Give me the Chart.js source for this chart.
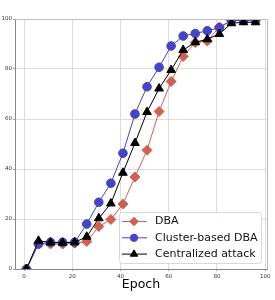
<!DOCTYPE html>
<html lang="en">
<head>
<meta charset="UTF-8">
<title>Epoch chart</title>
<script src="https://cdn.jsdelivr.net/npm/chart.js"></script>
<style>
  html, body { margin: 0; padding: 0; background: #fff; }
  #wrap { width: 275px; height: 300px; }
</style>
</head>
<body>
<div id="wrap"><canvas id="chart" width="275" height="300"></canvas></div>
<script>
// data
const epochs = [1, 6, 11, 16, 21, 26, 31, 36, 41, 46, 51, 56, 61, 66, 71, 76, 81, 86, 91, 96];
const dbaValues = [0, 10, 10, 10, 10.3, 11, 17, 19.8, 26, 36.8, 47.5, 63, 75, 85, 90.6, 91.2, 96.8, 99.5, 99.5, 99.5];
const clusterValues = [0, 10, 10.7, 10.7, 10.7, 18, 26.7, 34.3, 46.3, 62, 72.9, 80.7, 89.2, 93.2, 94.2, 95.3, 96.5, 99.4, 99.5, 99.5];
const centralValues = [0, 11.3, 10.6, 10.5, 10.7, 12.9, 20.3, 26.2, 38.5, 50.4, 62.8, 72.2, 79.6, 87.6, 90.7, 91.9, 94, 98.3, 98.7, 98.7];
const seriesNames = ['DBA', 'Cluster-based DBA', 'Centralized attack'];
const xTicks = [0, 20, 40, 60, 80, 100];

const toPoints = vals => epochs.map((e, i) => ({ x: e, y: vals[i] }));

// legend drawn inside the plot, bottom right
const innerLegend = {
  id: 'innerLegend',
  afterDraw(chart) {
    const ctx = chart.ctx;
    const area = chart.chartArea;
    const w = 142, h = 51;
    const x0 = area.right - 6 - w, y0 = area.bottom - 6 - h;
    ctx.save();
    ctx.fillStyle = 'rgba(255,255,255,0.9)';
    ctx.strokeStyle = '#d8d8d8';
    ctx.lineWidth = 1;
    ctx.beginPath();
    ctx.roundRect(x0 + 0.5, y0 + 0.5, w, h, 3);
    ctx.fill();
    ctx.stroke();
    ctx.font = '11px "DejaVu Sans"';
    ctx.textBaseline = 'middle';
    chart.data.datasets.forEach((ds, i) => {
      const cy = y0 + 9.5 + i * 16.3;
      ctx.strokeStyle = ds.borderColor;
      ctx.lineWidth = 1;
      ctx.beginPath();
      ctx.moveTo(x0 + 3, cy);
      ctx.lineTo(x0 + 28, cy);
      ctx.stroke();
      ctx.fillStyle = ds.pointBackgroundColor;
      ctx.strokeStyle = ds.pointBorderColor;
      Chart.helpers.drawPoint(ctx, {
        pointStyle: ds.pointStyle, radius: ds.pointRadius * 0.85, borderWidth: 1, rotation: 0
      }, x0 + 15, cy);
      ctx.fillStyle = '#111';
      ctx.fillText(seriesNames[i], x0 + 36, cy);
    });
    // light top and right frame
    ctx.strokeStyle = '#bdbdbd';
    ctx.lineWidth = 1;
    ctx.beginPath();
    ctx.moveTo(area.left, area.top + 0.5);
    ctx.lineTo(area.right + 0.5, area.top + 0.5);
    ctx.lineTo(area.right + 0.5, area.bottom);
    ctx.stroke();
    ctx.restore();
  }
};

new Chart(document.getElementById('chart'), {
  type: 'line',
  data: {
    datasets: [
      {
        label: seriesNames[0], data: toPoints(dbaValues), order: 3,
        borderColor: '#d0604f', backgroundColor: '#d0604f',
        pointBackgroundColor: '#d0604f', pointBorderColor: '#d0604f',
        pointStyle: 'rectRot', pointRadius: 5, borderWidth: 1
      },
      {
        label: seriesNames[1], data: toPoints(clusterValues), order: 2,
        borderColor: '#4444c4', backgroundColor: '#4444c4',
        pointBackgroundColor: '#4444c4', pointBorderColor: '#4444c4',
        pointStyle: 'circle', pointRadius: 4.3, borderWidth: 1
      },
      {
        label: seriesNames[2], data: toPoints(centralValues), order: 1,
        borderColor: '#000000', backgroundColor: '#000000',
        pointBackgroundColor: '#000000', pointBorderColor: '#000000',
        pointStyle: 'triangle', pointRadius: 5, borderWidth: 1
      }
    ]
  },
  options: {
    responsive: false,
    animation: false,
    layout: { padding: { top: 19, right: 8, left: 0, bottom: 0 } },
    plugins: { legend: { display: false }, tooltip: { enabled: false } },
    scales: {
      x: {
        type: 'linear', min: -3.75, max: 100.75,
        afterBuildTicks: s => { s.ticks = xTicks.map(v => ({ value: v })); },
        afterFit: s => { s.height = 31; },
        grid: { color: '#d4d4d4', borderDash: [1.5, 1.5], lineWidth: 0.8, tickLength: 2, tickColor: '#888' },
        border: { color: '#888', width: 1, dash: [] },
        ticks: { font: { size: 5.5, family: 'DejaVu Sans' }, color: '#333', padding: 2, maxRotation: 0 },
        title: { display: true, text: 'Epoch', font: { size: 12.5, family: 'DejaVu Sans' }, color: '#000', padding: { top: 0, bottom: 8 } }
      },
      y: {
        min: 0, max: 100,
        afterFit: s => { s.width = 15; },
        grid: { color: '#d4d4d4', borderDash: [1.5, 1.5], lineWidth: 0.8, tickLength: 2, tickColor: '#888' },
        border: { color: '#888', width: 1 },
        ticks: { stepSize: 20, font: { size: 5.5, family: 'DejaVu Sans' }, color: '#333', padding: 1 }
      }
    }
  },
  plugins: [innerLegend]
});
</script>
</body>
</html>
